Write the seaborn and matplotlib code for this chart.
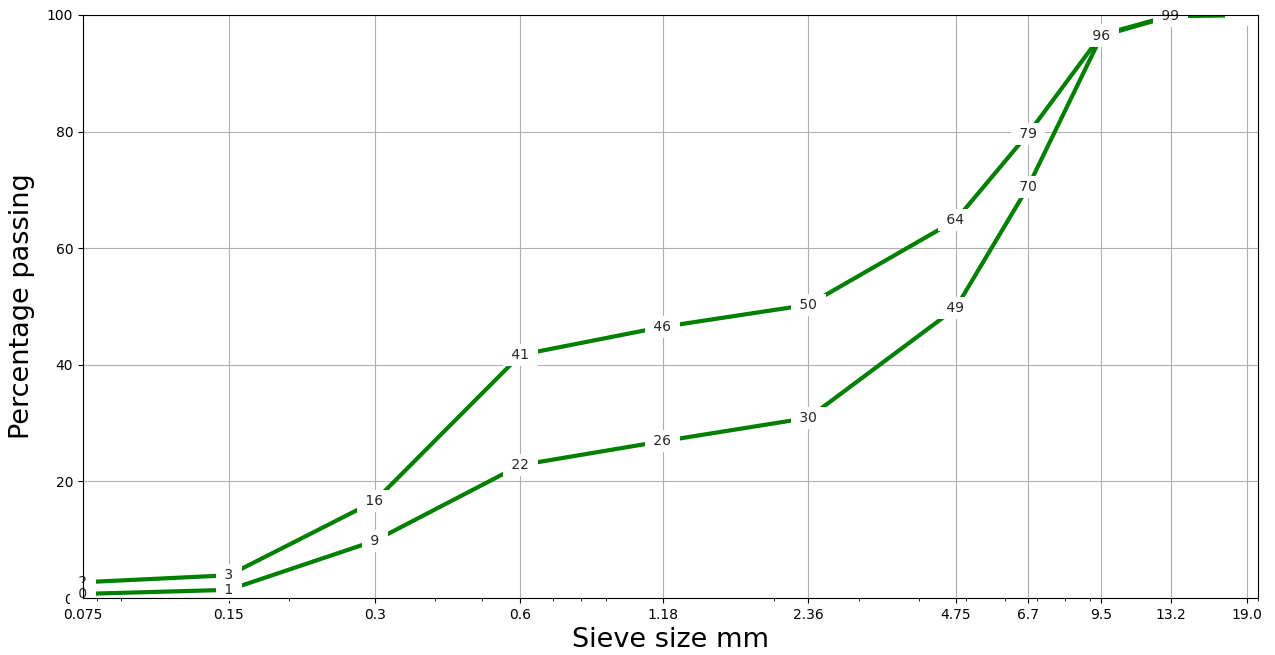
import matplotlib
matplotlib.use("Agg")
import matplotlib.pyplot as plt
import matplotlib.ticker as mticker
import seaborn as sns
import pandas as pd

sieve_sizes = [0.075, 0.15, 0.3, 0.6, 1.18, 2.36, 4.75, 6.7, 9.5, 13.2, 19.0]
tick_labels = ["0.075", "0.15", "0.3", "0.6", "1.18", "2.36", "4.75", "6.7", "9.5", "13.2", "19.0"]
upper_limit = [2.7, 3.9, 16.6, 41.7, 46.5, 50.3, 64.8, 79.6, 96.6, 99.9, 100.0]
lower_limit = [0.7, 1.4, 9.8, 22.8, 26.9, 30.9, 49.7, 70.5, 96.4, 99.8, 100.0]

df = pd.concat([
    pd.DataFrame({"size": sieve_sizes, "passing": upper_limit, "series": "upper"}),
    pd.DataFrame({"size": sieve_sizes, "passing": lower_limit, "series": "lower"}),
])

fig = plt.figure(figsize=(12.75, 6.55), dpi=100)
ax = fig.add_axes([83 / 1275, 1 - 598 / 655, (1258 - 83) / 1275, (598 - 15) / 655])

sns.lineplot(data=df, x="size", y="passing", hue="series",
             palette={"upper": "green", "lower": "green"},
             linewidth=3, legend=False, ax=ax, zorder=2)

ax.set_xscale("log")
ax.set_xlim(0.075, 20)
ax.set_ylim(0, 100)
ax.set_xticks(sieve_sizes)
ax.set_xticklabels(tick_labels)
ax.xaxis.set_minor_formatter(mticker.NullFormatter())
ax.grid(True, which="major", color="#b0b0b0", linewidth=0.8, zorder=0)
ax.set_axisbelow(True)

for series in (upper_limit, lower_limit):
    for i, (x, y) in enumerate(zip(sieve_sizes, series)):
        last = i == len(sieve_sizes) - 1
        ax.text(x, y, " %d " % int(y), ha="center", va="center", fontsize=10,
                color="white" if last else "#262626", zorder=2.2, clip_on=last,
                bbox=dict(boxstyle="square,pad=0.3", fc="white", ec="none"))

ax.set_xlabel("Sieve size mm", fontsize=19.5)
ax.set_ylabel("Percentage passing", fontsize=19.5)
ax.yaxis.set_label_coords(-0.041, 0.5)

fig.savefig("out.png", dpi=100)
